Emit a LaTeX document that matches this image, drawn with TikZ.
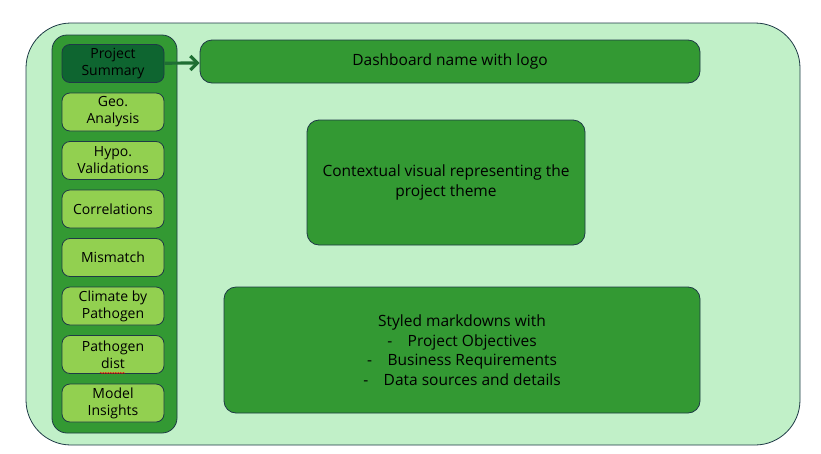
\documentclass[tikz,border=0pt]{standalone}
\usepackage{fontspec}
\setmainfont{Open Sans}
\usepackage{tikz}
\usetikzlibrary{arrows.meta,decorations.pathmorphing}
\definecolor{paleGreen}{HTML}{C1F0C8}
\definecolor{midGreen}{HTML}{339933}
\definecolor{darkGreen}{HTML}{0E6530}
\definecolor{limeGreen}{HTML}{92D050}
\definecolor{inkLine}{HTML}{1E3A46}
\definecolor{arrowGreen}{HTML}{1F6E33}

\begin{document}
\begin{tikzpicture}[x=1pt,y=-1pt,node distance=48.5pt,
  sketch/.style={draw=inkLine,line width=0.8pt},
  panel/.style={sketch,fill=midGreen,rounded corners=12pt,font=\fontsize{15.5}{19.5}\selectfont,align=center},
  tab/.style={sketch,fill=limeGreen,rounded corners=8pt,minimum width=102pt,minimum height=38pt,
    align=center,font=\fontsize{14}{17}\selectfont},
  tabactive/.style={tab,fill=darkGreen}]
  \useasboundingbox (0,0) rectangle (821,453);
  \node[sketch,fill=paleGreen,rounded corners=45pt,minimum width=774pt,minimum height=422pt] (canvas) at (413,234) {};
  \node[sketch,fill=midGreen,rounded corners=15pt,minimum width=125pt,minimum height=398pt] (sidebar) at (114.5,234) {};

  \node[tabactive] (psum) at (113,63.5) {Project\\Summary};
  \node[tab] (geo)   [below of=psum]  {Geo.\\Analysis};
  \node[tab] (hypo)  [below of=geo]   {Hypo.\\Validations};
  \node[tab] (corr)  [below of=hypo]  {Correlations};
  \node[tab] (mism)  [below of=corr]  {Mismatch};
  \node[tab] (clim)  [below of=mism]  {Climate by\\Pathogen};
  \node[tab] (pdist) [below of=clim]  {Pathogen\\dist};
  \node[tab] (model) [below of=pdist] {Model\\Insights};

  \node[panel,minimum width=500pt,minimum height=43pt] (dash) at (450,61.5) {Dashboard name with logo};
  \node[panel,minimum width=278pt,minimum height=125pt] (visual) at (446,182.5)
    {Contextual visual representing the\\project theme};
  \node[panel,minimum width=476pt,minimum height=126pt] (notes) at (462,350)
    {Styled markdowns with\\-\quad Project Objectives\\-\quad Business Requirements\\-\quad Data sources and details};

  % spell-check mark under "dist"
  \draw[red,line width=0.5pt,decorate,decoration={snake,amplitude=0.6pt,segment length=2.5pt}]
    (100,373) -- (125,373);

  \draw[arrowGreen,line width=3.2pt,-{Straight Barb[length=7pt,width=14pt]}] (psum) -- (dash);
\end{tikzpicture}
\end{document}
